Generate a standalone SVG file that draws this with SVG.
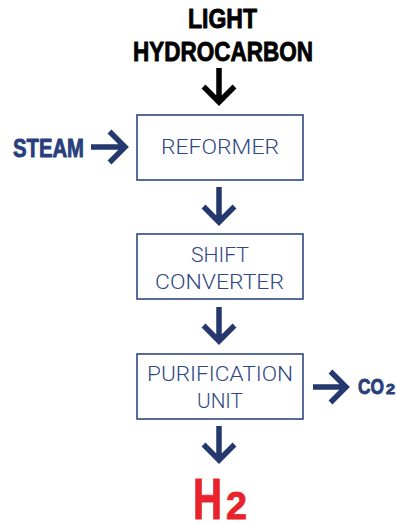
<svg xmlns="http://www.w3.org/2000/svg" width="396" height="524" viewBox="0 0 396 524">
<style>
.box{fill:#fff;stroke:#2f4785;stroke-width:1.6}
.lbl{font-family:Roboto,"Liberation Sans",sans-serif;font-weight:300;font-size:21px;fill:#2f4785}
.bold{font-family:"Liberation Sans",Arial,sans-serif;font-weight:bold;stroke-width:0.9;stroke-linejoin:round}
.arr{fill:none;stroke:#26396f;stroke-width:5.5;stroke-linejoin:miter;stroke-linecap:butt}
.blk{stroke:#000}
</style>
<rect width="396" height="524" fill="#fff"/>
<g id="input-hydrocarbon">
<text class="bold" x="188" y="28" font-size="28" textLength="69" lengthAdjust="spacingAndGlyphs" fill="#000" stroke="#000">LIGHT</text>
<text class="bold" x="133" y="61" font-size="28" textLength="180" lengthAdjust="spacingAndGlyphs" fill="#000" stroke="#000">HYDROCARBON</text>
</g>
<g id="input-steam">
<text class="bold" x="13" y="157" font-size="26" textLength="71" lengthAdjust="spacingAndGlyphs" fill="#293f7c" stroke="#293f7c">STEAM</text>
</g>
<g id="reformer">
<rect class="box" x="137" y="115" width="166" height="65"/>
<text class="lbl" x="161" y="154" textLength="118" lengthAdjust="spacingAndGlyphs">REFORMER</text>
</g>
<g id="shift-converter">
<rect class="box" x="137" y="234" width="166" height="65"/>
<text class="lbl" x="191" y="262" textLength="58" lengthAdjust="spacingAndGlyphs">SHIFT</text>
<text class="lbl" x="155" y="289" textLength="129" lengthAdjust="spacingAndGlyphs">CONVERTER</text>
</g>
<g id="purification-unit">
<rect class="box" x="137" y="354" width="166" height="65"/>
<text class="lbl" x="147" y="381" textLength="146" lengthAdjust="spacingAndGlyphs">PURIFICATION</text>
<text class="lbl" x="197" y="408" textLength="46" lengthAdjust="spacingAndGlyphs">UNIT</text>
</g>
<g id="output-co2">
<text class="bold" x="358" y="394" font-size="22" fill="#293f7c" stroke="#293f7c"><tspan textLength="26" lengthAdjust="spacingAndGlyphs">CO</tspan><tspan x="386" font-size="14" textLength="9" lengthAdjust="spacingAndGlyphs">2</tspan></text>
</g>
<g id="output-h2">
<text class="bold" x="193" y="519" font-size="58" fill="#e8232b" stroke="#e8232b" stroke-width="1.5"><tspan textLength="29" lengthAdjust="spacingAndGlyphs">H</tspan><tspan x="226" font-size="39" textLength="21" lengthAdjust="spacingAndGlyphs">2</tspan></text>
</g>
<g id="connectors">
<path class="arr blk" d="M219 68V101M203.5 86.5L219 102L234.5 86.5"/>
<path class="arr" d="M91 147H125M109.5 131.5L125 147L109.5 162.5"/>
<path class="arr" d="M219 187V222M203.5 206.5L219 222L234.5 206.5"/>
<path class="arr" d="M219 307V341M203.5 325.5L219 341L234.5 325.5"/>
<path class="arr" d="M219 426V460M203.5 444.5L219 460L234.5 444.5"/>
<path class="arr" d="M313 387H346M330.5 371.5L346 387L330.5 402.5"/>
</g>
</svg>
